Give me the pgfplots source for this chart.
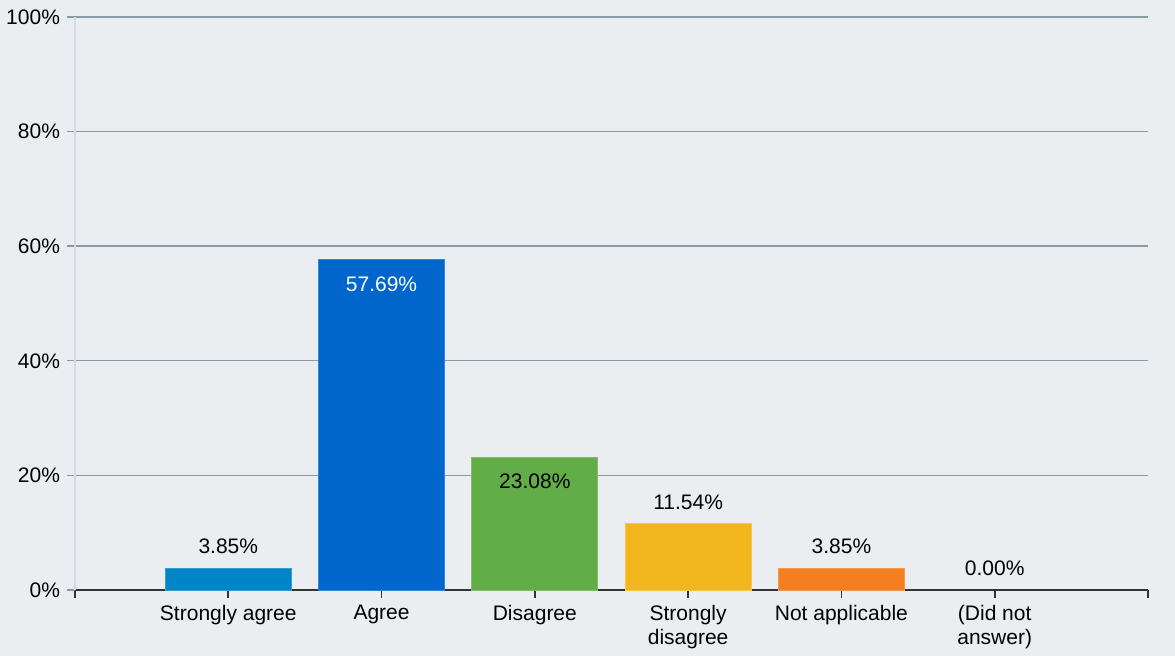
\documentclass[border=0pt]{standalone}
\usepackage{fontspec}
\setmainfont{Liberation Sans}
\usepackage{pgfplots}
\pgfplotsset{compat=1.18}
\definecolor{bg}{HTML}{EBEEF1}
\definecolor{gridc}{HTML}{8A9AA4}
\definecolor{yax}{HTML}{D3DAE5}
\definecolor{axc}{HTML}{333333}
\definecolor{cSA}{HTML}{0085C7}
\definecolor{cA}{HTML}{0066CC}
\definecolor{cD}{HTML}{62AD47}
\definecolor{cSD}{HTML}{F2B71F}
\definecolor{cNA}{HTML}{F47F20}
\begin{document}
\begin{tikzpicture}
\fill[bg] (-37.5pt,-33pt) rectangle (550pt,295pt);
\begin{axis}[
  at={(0,0)}, anchor=south west,
  scale only axis, width=536.5pt, height=286.5pt,
  xmin=-1, xmax=6, ymin=0, ymax=100,
  axis x line*=bottom, axis y line*=left,
  x axis line style={draw=axc, line width=0.8pt, -},
  y axis line style={draw=yax, line width=0.6pt, -},
  xtick={-1,0,1,2,3,4,5,6},
  xticklabels={,Strongly agree,Agree,Disagree,Strongly\\disagree,Not applicable,(Did not\\answer),},
  xticklabel style={align=center, font=\fontsize{10.5}{12}\selectfont, text=black},
  x tick style={draw=axc, line width=0.8pt},
  ytick={0,20,40,60,80,100},
  yticklabel={\pgfmathprintnumber{\tick}\%},
  yticklabel style={font=\fontsize{10.5}{12}\selectfont, text=black},
  /pgf/number format/assume math mode=true,
  y tick style={draw=gridc, line width=0.7pt},
  tick align=outside, major tick length=4pt,
  ymajorgrids, grid style={draw=gridc, line width=0.7pt},
  ybar, bar width=63pt, bar shift=0pt,
  nodes near coords, point meta=explicit symbolic,
  nodes near coords style={font=\fontsize{10.5}{12}\selectfont, anchor=center},
  clip=false,
]
\addplot[fill=cSA, draw=cSA!80!white, every node near coord/.append style={yshift=11pt}] coordinates {(0,3.85) [3.85\%]};
\addplot[fill=cA, draw=cA!80!white, every node near coord/.append style={yshift=-12.5pt, text=white}] coordinates {(1,57.69) [57.69\%]};
\addplot[fill=cD, draw=cD!80!white, every node near coord/.append style={yshift=-12pt, text=black}] coordinates {(2,23.08) [23.08\%]};
\addplot[fill=cSD, draw=cSD!80!white, every node near coord/.append style={yshift=11pt}] coordinates {(3,11.54) [11.54\%]};
\addplot[fill=cNA, draw=cNA!80!white, every node near coord/.append style={yshift=11pt}] coordinates {(4,3.85) [3.85\%]};
\addplot[fill=none, draw=none, every node near coord/.append style={yshift=11pt}] coordinates {(5,0) [0.00\%]};
\end{axis}
\pgfresetboundingbox
\path (-37.5pt,-33pt) rectangle (550pt,295pt);
\end{tikzpicture}
\end{document}
